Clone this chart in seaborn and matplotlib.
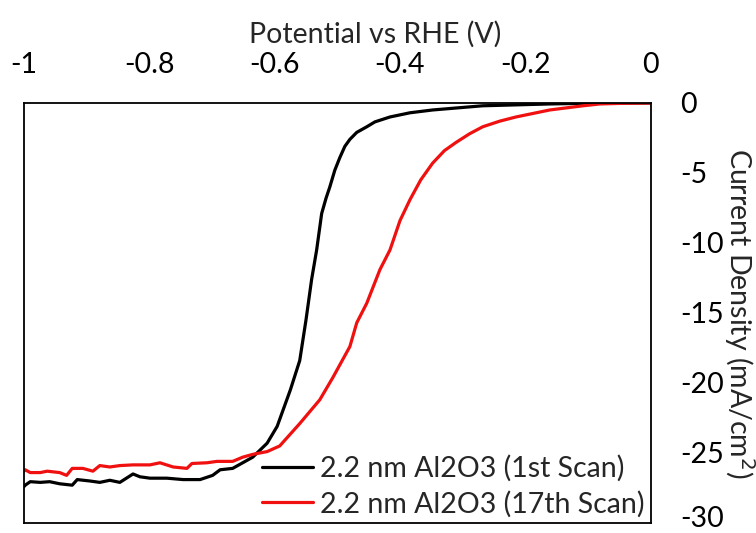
import matplotlib
matplotlib.use("Agg")
import matplotlib.pyplot as plt
import matplotlib.transforms as mtransforms
import seaborn as sns

# potential (V vs RHE) and current density (mA/cm2)
scan1_v = [-1.0, -0.998, -0.990, -0.974, -0.959, -0.943, -0.923, -0.915, -0.895, -0.879,
           -0.863, -0.847, -0.826, -0.815, -0.799, -0.772, -0.746, -0.719, -0.699, -0.687,
           -0.667, -0.651, -0.635, -0.612, -0.596, -0.575, -0.560, -0.550, -0.541, -0.533,
           -0.525, -0.518, -0.512, -0.504, -0.496, -0.488, -0.480, -0.469, -0.453, -0.440,
           -0.416, -0.384, -0.348, -0.268, -0.161, -0.10, 0.0]
scan1_j = [-27.4, -27.3, -27.05, -27.1, -27.05, -27.2, -27.3, -26.9, -27.0, -27.1,
           -26.95, -27.1, -26.5, -26.7, -26.8, -26.8, -26.9, -26.9, -26.6, -26.2,
           -26.1, -25.7, -25.3, -24.3, -23.1, -20.5, -18.4, -15.5, -12.6, -10.5,
           -7.9, -6.8, -6.0, -4.8, -3.9, -3.1, -2.6, -2.1, -1.7, -1.35,
           -1.0, -0.7, -0.5, -0.2, -0.07, -0.02, 0.0]

scan17_v = [-1.0, -0.998, -0.990, -0.974, -0.963, -0.943, -0.932, -0.923, -0.906, -0.890,
            -0.879, -0.863, -0.847, -0.826, -0.799, -0.783, -0.762, -0.740, -0.732, -0.708,
            -0.692, -0.667, -0.651, -0.635, -0.612, -0.592, -0.576, -0.560, -0.528, -0.507,
            -0.480, -0.469, -0.453, -0.432, -0.416, -0.400, -0.384, -0.367, -0.348, -0.329,
            -0.310, -0.289, -0.268, -0.241, -0.215, -0.161, -0.108, -0.081, -0.04, 0.0]
scan17_j = [-26.3, -26.2, -26.4, -26.4, -26.3, -26.4, -26.6, -26.1, -26.1, -26.3,
            -25.9, -26.0, -25.9, -25.85, -25.85, -25.7, -26.0, -26.1, -25.75, -25.7,
            -25.6, -25.6, -25.3, -25.1, -24.9, -24.5, -23.7, -22.9, -21.2, -19.6,
            -17.4, -15.7, -14.3, -11.9, -10.5, -8.4, -6.9, -5.5, -4.3, -3.4,
            -2.8, -2.2, -1.7, -1.3, -1.0, -0.5, -0.2, -0.07, -0.02, 0.0]

x_ticks = [-1, -0.8, -0.6, -0.4, -0.2, 0]
x_tick_labels = ["-1", "-0.8", "-0.6", "-0.4", "-0.2", "0"]
y_ticks = [0, -5, -10, -15, -20, -25, -30]

sns.set_style("white")
plt.rcParams["font.family"] = ["Lato", "DejaVu Sans"]
fs = 20.5

fig = plt.figure(figsize=(7.56, 5.33), dpi=100)
ax = fig.add_axes([0.0317, 0.0188, 0.829, 0.788])

sns.lineplot(x=scan1_v, y=scan1_j, color="black", lw=2.3, label="2.2 nm Al2O3 (1st Scan)", ax=ax)
sns.lineplot(x=scan17_v, y=scan17_j, color="#f01010", lw=2.3, label="2.2 nm Al2O3 (17th Scan)", ax=ax)

ax.set_xlim(-1, 0)
ax.set_ylim(-30, 0)
ax.xaxis.tick_top()
ax.xaxis.set_label_position("top")
ax.yaxis.tick_right()
ax.yaxis.set_label_position("right")
ax.set_xticks(x_ticks)
ax.set_xticklabels(x_tick_labels)
ax.set_yticks(y_ticks)
ax.set_yticklabels([str(t) for t in y_ticks])
ax.tick_params(axis="both", length=0, labelsize=fs, colors="black")
ax.tick_params(axis="x", pad=18)
ax.tick_params(axis="y", pad=21)
ax.set_xlabel("Potential vs RHE (V)", fontsize=fs, labelpad=7)
ax.xaxis.label.set_x(0.56)
ax.set_ylabel("Current Density (mA/cm$^2$)", fontsize=fs, rotation=270, labelpad=24)

# lowest y label sits a little higher so it stays inside the picture
last = ax.get_yticklabels()[-1]
last.set_transform(last.get_transform() + mtransforms.ScaledTranslation(0, 5 / 72, fig.dpi_scale_trans))

for s in ax.spines.values():
    s.set_visible(True)
    s.set_color("black")
    s.set_linewidth(1.3)

ax.legend(loc="lower right", bbox_to_anchor=(1.0, 0.0), frameon=False, fontsize=fs,
          handlelength=1.8, handletextpad=0.25, labelspacing=0.3, borderaxespad=0.05,
          borderpad=0.15)

fig.savefig("out.png", dpi=100)
